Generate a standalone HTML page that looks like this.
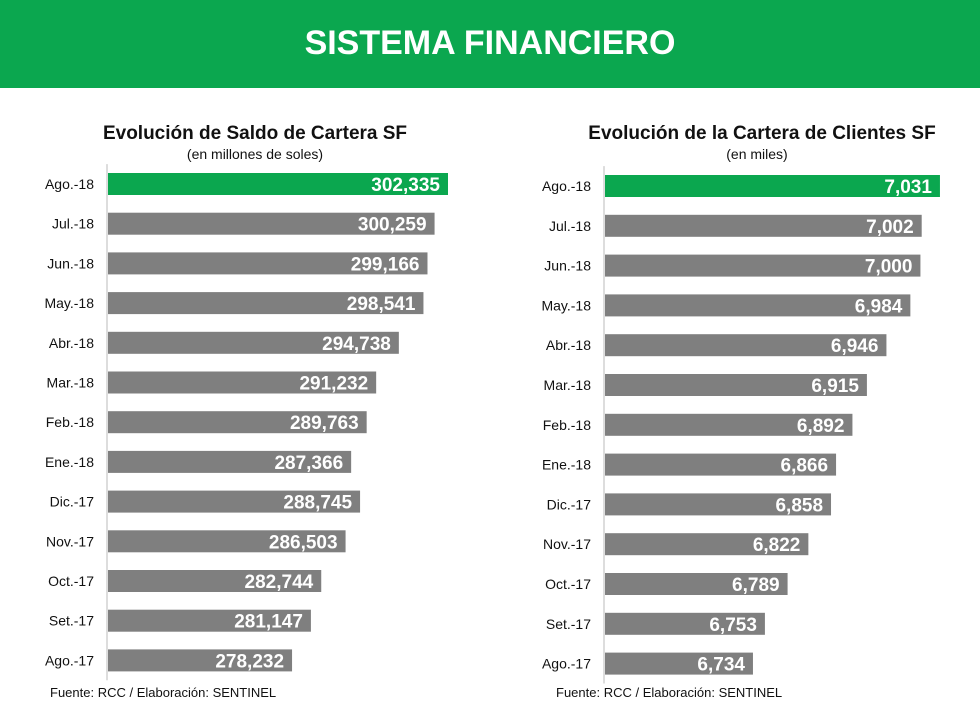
<!DOCTYPE html>
<html><head><meta charset="utf-8"><style>
body{margin:0;width:980px;height:723px;overflow:hidden;background:#fff;font-family:"Liberation Sans",sans-serif}
#hdr{position:absolute;left:0;top:0;width:980px;height:88px;background:#0ba74f;color:#fff;font-weight:bold;font-size:34px;text-align:center;line-height:86px}
svg{position:absolute;left:0;top:0}
</style></head><body>
<div id="hdr">SISTEMA FINANCIERO</div>
<svg id="c" width="980" height="723">
<text x="255" y="139" text-anchor="middle" font-size="19" font-weight="bold" fill="#111">Evolución de Saldo de Cartera SF</text>
<text x="255" y="159" text-anchor="middle" font-size="14" fill="#111">(en millones de soles)</text>
<text x="762" y="139" text-anchor="middle" font-size="19" font-weight="bold" fill="#111">Evolución de la Cartera de Clientes SF</text>
<text x="757" y="159" text-anchor="middle" font-size="14" fill="#111">(en miles)</text>
<text x="50" y="697" font-size="13" fill="#111">Fuente: RCC / Elaboración: SENTINEL</text>
<text x="556" y="697" font-size="13" fill="#111">Fuente: RCC / Elaboración: SENTINEL</text>
</svg>
<script>
const categories=["Ago.-18","Jul.-18","Jun.-18","May.-18","Abr.-18","Mar.-18","Feb.-18","Ene.-18","Dic.-17","Nov.-17","Oct.-17","Set.-17","Ago.-17"];
const saldoValues=[302335,300259,299166,298541,294738,291232,289763,287366,288745,286503,282744,281147,278232];
const clientesValues=[7031,7002,7000,6984,6946,6915,6892,6866,6858,6822,6789,6753,6734];
const svg=document.getElementById('c');
const NS='http://www.w3.org/2000/svg';
function mk(t,a){const e=document.createElementNS(NS,t);for(const k in a)e.setAttribute(k,a[k]);svg.appendChild(e);return e;}
function chart(vals,cfg,prefix){
  const x=v=>cfg.x0+(v-cfg.dmin)*cfg.scale;
  const y=i=>cfg.y0+i*cfg.step;
  const ax=mk('line',{x1:cfg.x0-1,x2:cfg.x0-1,y1:y(0)-cfg.step/2,y2:y(vals.length-1)+cfg.step/2,stroke:'#bbb','stroke-width':1});
  
  
  vals.forEach((v,i)=>{
    const r=mk('rect',{x:cfg.x0,y:y(i)-11,width:x(v)-cfg.x0,height:22,fill:i===0?'#0ba74f':'#7f7f7f'});
    
    
    const l=mk('text',{x:cfg.x0-14,y:y(i)+5,'text-anchor':'end','font-size':14,fill:'#111'});
    l.textContent=categories[i];
    
    
    const t=mk('text',{x:x(v)-8,y:y(i)+7,'text-anchor':'end','font-size':19,'font-weight':'bold',fill:'#fff'});
    t.textContent=v.toLocaleString('en-US');
    
    
  });
}
chart(saldoValues,{x0:108,dmin:249785,scale:0.00647,y0:184,step:39.7},'saldo');
chart(clientesValues,{x0:605,dmin:6499,scale:0.6296,y0:186,step:39.8},'clientes');
</script>
</body></html>
